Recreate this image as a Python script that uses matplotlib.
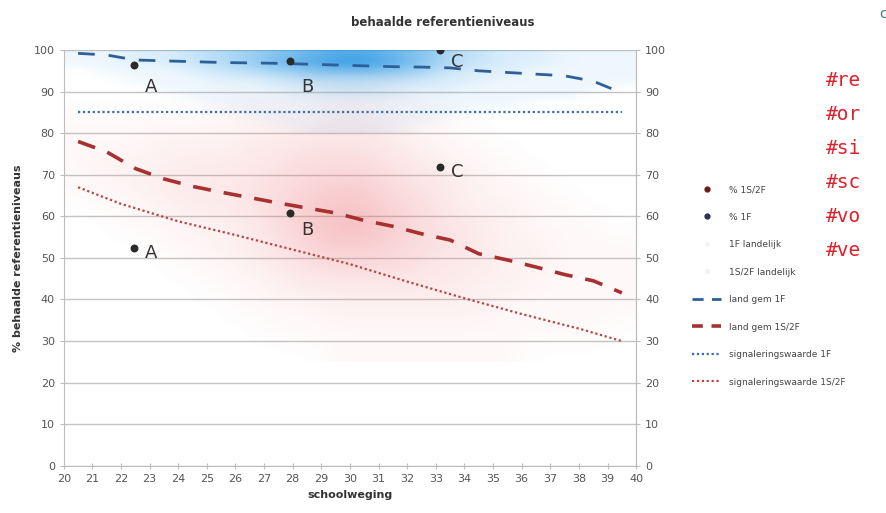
import matplotlib.pyplot as plt
import numpy as np
from matplotlib.colors import LinearSegmentedColormap
from matplotlib.lines import Line2D

# schoolweging grid for the national cloud (bin centres)
cloud_x = [20.5, 21.5, 22.5, 23.5, 24.5, 25.5, 26.5, 27.5, 28.5, 29.5,
           30.5, 31.5, 32.5, 33.5, 34.5, 35.5, 36.5, 37.5, 38.5, 39.5]

# 1S/2F landelijk: relative density per 5%-band, rows from 92.5 down to 27.5
red_y = [92.5, 87.5, 82.5, 77.5, 72.5, 67.5, 62.5, 57.5, 52.5, 47.5, 42.5, 37.5, 32.5, 27.5]
red_density = [
    [0, 0, 0, 0, 0, 0, 0, 0, 1, 1, 1, 1, 0, 0, 0, 0, 0, 0, 0, 0],
    [0, 0, 0, 0, 0, 1, 1, 1, 1, 2, 2, 1, 1, 0, 0, 0, 0, 0, 0, 0],
    [1, 1, 1, 1, 1, 1, 2, 2, 2, 3, 3, 2, 1, 1, 0, 0, 0, 0, 0, 0],
    [1, 1, 1, 2, 2, 2, 3, 3, 4, 4, 4, 3, 2, 1, 1, 0, 0, 0, 0, 0],
    [1, 2, 2, 2, 3, 3, 3, 4, 5, 5, 5, 4, 3, 2, 1, 1, 0, 0, 0, 0],
    [1, 1, 2, 3, 3, 3, 4, 5, 6, 7, 7, 5, 4, 3, 2, 1, 1, 0, 0, 0],
    [0, 1, 1, 2, 3, 3, 4, 5, 7, 8, 8, 6, 5, 3, 2, 2, 1, 1, 0, 0],
    [0, 0, 1, 1, 2, 2, 3, 5, 7, 9, 9, 7, 5, 4, 3, 2, 1, 1, 1, 0],
    [0, 0, 0, 1, 1, 2, 3, 4, 6, 7, 7, 6, 5, 4, 3, 2, 2, 1, 1, 1],
    [0, 0, 0, 0, 1, 1, 2, 3, 4, 5, 5, 5, 4, 3, 3, 2, 2, 1, 1, 1],
    [0, 0, 0, 0, 0, 1, 1, 2, 3, 3, 3, 3, 3, 3, 2, 2, 1, 1, 1, 1],
    [0, 0, 0, 0, 0, 0, 1, 1, 1, 2, 2, 2, 2, 2, 2, 1, 1, 1, 1, 1],
    [0, 0, 0, 0, 0, 0, 0, 1, 1, 1, 1, 1, 1, 1, 1, 1, 1, 1, 1, 0],
    [0, 0, 0, 0, 0, 0, 0, 0, 0, 1, 1, 1, 1, 1, 1, 1, 0, 0, 0, 0],
]

# 1F landelijk: relative density per 2%-band, rows from 99 down to 81
blue_y = [99, 97, 95, 93, 91, 89, 87, 85, 83, 81]
blue_density = [
    [1, 1, 2, 2, 3, 4, 5, 6, 7, 8, 8, 7, 6, 4, 3, 2, 2, 1, 1, 1],
    [1, 1, 2, 2, 3, 4, 5, 7, 8, 9, 9, 8, 6, 4, 3, 2, 2, 1, 1, 1],
    [0, 1, 1, 1, 2, 3, 4, 5, 6, 7, 7, 6, 5, 3, 2, 2, 1, 1, 1, 1],
    [0, 0, 1, 1, 1, 2, 2, 3, 4, 4, 4, 4, 3, 2, 2, 1, 1, 1, 1, 1],
    [0, 0, 0, 1, 1, 1, 1, 2, 2, 3, 3, 2, 2, 2, 1, 1, 1, 1, 1, 0],
    [0, 0, 0, 0, 1, 1, 1, 1, 2, 2, 2, 2, 1, 1, 1, 1, 1, 1, 0, 0],
    [0, 0, 0, 0, 0, 1, 1, 1, 1, 1, 1, 1, 1, 1, 1, 1, 0, 0, 0, 0],
    [0, 0, 0, 0, 0, 0, 1, 1, 1, 1, 1, 1, 1, 1, 0, 0, 0, 0, 0, 0],
    [0, 0, 0, 0, 0, 0, 0, 1, 1, 1, 1, 1, 1, 0, 0, 0, 0, 0, 0, 0],
    [0, 0, 0, 0, 0, 0, 0, 0, 1, 1, 1, 1, 0, 0, 0, 0, 0, 0, 0, 0],
]

# landelijk gemiddelde
gem_x = [20.5, 21.5, 22.5, 23.5, 24.5, 25.5, 26.5, 27.5, 28.5, 29.5,
         30.5, 31.5, 32.5, 33.5, 34.5, 35.5, 36.5, 37.5, 38.5, 39.5]
gem_1f = [99.2, 98.8, 97.6, 97.4, 97.2, 97.0, 96.9, 96.8, 96.6, 96.4,
          96.2, 96.0, 95.9, 95.7, 95.0, 94.6, 94.2, 93.8, 92.5, 89.7]
gem_1s2f = [78.0, 75.5, 71.5, 69.0, 67.2, 65.8, 64.5, 63.2, 62.0, 60.8,
            59.0, 57.6, 55.8, 54.3, 51.0, 49.5, 47.8, 46.0, 44.5, 41.6]

# signaleringswaarden
sig_x = [20.5, 22, 24, 26, 28, 30, 32, 34, 36, 38, 39.5]
sig_1f = [85, 85, 85, 85, 85, 85, 85, 85, 85, 85, 85]
sig_1s2f = [67, 63, 58.8, 55.5, 52, 48.5, 44.3, 40.3, 36.5, 33, 30]

# scholen A, B, C
school_labels = ['A', 'B', 'C']
school_x = [22.45, 27.9, 33.15]
school_1f = [96.4, 97.4, 100.0]
school_1s2f = [52.4, 60.8, 71.9]
label_1f_y = [91.0, 91.0, 97.0]
label_1s2f_y = [51.2, 56.7, 70.7]

fig = plt.figure(figsize=(8.86, 5.13), dpi=100)
ax = fig.add_axes([0.072, 0.092, 0.646, 0.8105])

ax.set_xlim(20, 40)
ax.set_ylim(0, 100)
ax.set_yticks(range(0, 101, 10))
ax.set_xticks(range(20, 41))
ax.grid(axis='y', color='#c4c4c4', lw=1)
ax.set_axisbelow(True)
ax.spines['top'].set_visible(False)
for s in ['left', 'right', 'bottom']:
    ax.spines[s].set_color('#bdbdbd')
ax.tick_params(axis='both', colors='#bdbdbd', labelcolor='#555555', labelsize=8, length=3)
ax.tick_params(axis='x', direction='inout', length=5)

# national clouds as smoothed density
dx = 0.5
red_cmap = LinearSegmentedColormap.from_list('r', [(0.95, 0.45, 0.45, 0.0), (0.92, 0.42, 0.45, 0.42)])
blue_cmap = LinearSegmentedColormap.from_list('b', [(0.30, 0.68, 0.93, 0.0), (0.10, 0.56, 0.88, 0.85)])
ax.imshow(np.array(red_density, dtype=float), cmap=red_cmap, vmin=0, vmax=9,
          extent=[cloud_x[0] - dx, cloud_x[-1] + dx, red_y[-1] - 2.5, red_y[0] + 2.5],
          aspect='auto', interpolation='bicubic', zorder=1)
ax.imshow(np.array(blue_density, dtype=float), cmap=blue_cmap, vmin=0, vmax=9,
          extent=[cloud_x[0] - dx, cloud_x[-1] + dx, blue_y[-1] - 1, blue_y[0] + 1],
          aspect='auto', interpolation='bicubic', zorder=1)

ax.plot(gem_x, gem_1f, color='#2f5f98', lw=2, dashes=(6, 5), zorder=3)
ax.plot(gem_x, gem_1s2f, color='#a8302f', lw=2.6, dashes=(5, 3.6), zorder=3)
ax.plot(sig_x, sig_1f, color='#3a6cb0', lw=1.6, ls=(0, (1, 1.2)), zorder=3)
ax.plot(sig_x, sig_1s2f, color='#b84545', lw=1.6, ls=(0, (1, 1.2)), zorder=3)

ax.scatter(school_x, school_1f, s=22, color='#2a2a2a', zorder=4)
ax.scatter(school_x, school_1s2f, s=22, color='#2a2a2a', zorder=4)
for lab, x, y in zip(school_labels, school_x, label_1f_y):
    ax.text(x + 0.6, y, lab, fontsize=13, color='#333333', va='center', ha='center', zorder=5)
for lab, x, y in zip(school_labels, school_x, label_1s2f_y):
    ax.text(x + 0.6, y, lab, fontsize=13, color='#333333', va='center', ha='center', zorder=5)

# right axis
ax2 = ax.twinx()
ax2.set_ylim(0, 100)
ax2.set_yticks(range(0, 101, 10))
ax2.tick_params(axis='y', colors='#bdbdbd', labelcolor='#555555', labelsize=8, length=3)
for s in ['top', 'left', 'bottom']:
    ax2.spines[s].set_visible(False)
ax2.spines['right'].set_color('#bdbdbd')

fig.text(0.5, 0.957, 'behaalde referentieniveaus', ha='center', va='center',
         fontsize=8.5, fontweight='bold', color='#333333')
ax.set_xlabel('schoolweging', fontsize=8, fontweight='bold', color='#333333', labelpad=4)
ax.set_ylabel('% behaalde referentieniveaus', fontsize=8, fontweight='bold', color='#333333', labelpad=8)

handles = [
    Line2D([], [], ls='none', marker='o', ms=3.5, color='#6b1a1a'),
    Line2D([], [], ls='none', marker='o', ms=3.5, color='#2e2e5e'),
    Line2D([], [], ls='none', marker='o', ms=2.5, color='#eef3f8'),
    Line2D([], [], ls='none', marker='o', ms=2.5, color='#f6eeee'),
    Line2D([], [], color='#2f5f98', lw=2, dashes=(4, 3)),
    Line2D([], [], color='#a8302f', lw=2.6, dashes=(3, 2.4)),
    Line2D([], [], color='#3a6cb0', lw=1.6, ls=(0, (1, 1.2))),
    Line2D([], [], color='#b84545', lw=1.6, ls=(0, (1, 1.2))),
]
labels = ['% 1S/2F', '% 1F', '1F landelijk', '1S/2F landelijk',
          'land gem 1F', 'land gem 1S/2F', 'signaleringswaarde 1F', 'signaleringswaarde 1S/2F']
fig.legend(handles, labels, loc='upper left', bbox_to_anchor=(0.772, 0.655), frameon=False,
           fontsize=6.5, labelspacing=2.05, handlelength=3.2, handletextpad=0.9,
           labelcolor='#444444')

# overlapping page text on the right
for i, tag in enumerate(['#re', '#or', '#si', '#sc', '#vo', '#ve']):
    fig.text(0.932, 1 - (80 + 34 * i) / 513, tag, fontsize=14, family='DejaVu Sans Mono',
             color='#e0202a', va='center', ha='left')
fig.text(0.992, 0.972, 'c', fontsize=10, color='#4a7a70', va='center', ha='left')

plt.savefig('out.png', dpi=100)
